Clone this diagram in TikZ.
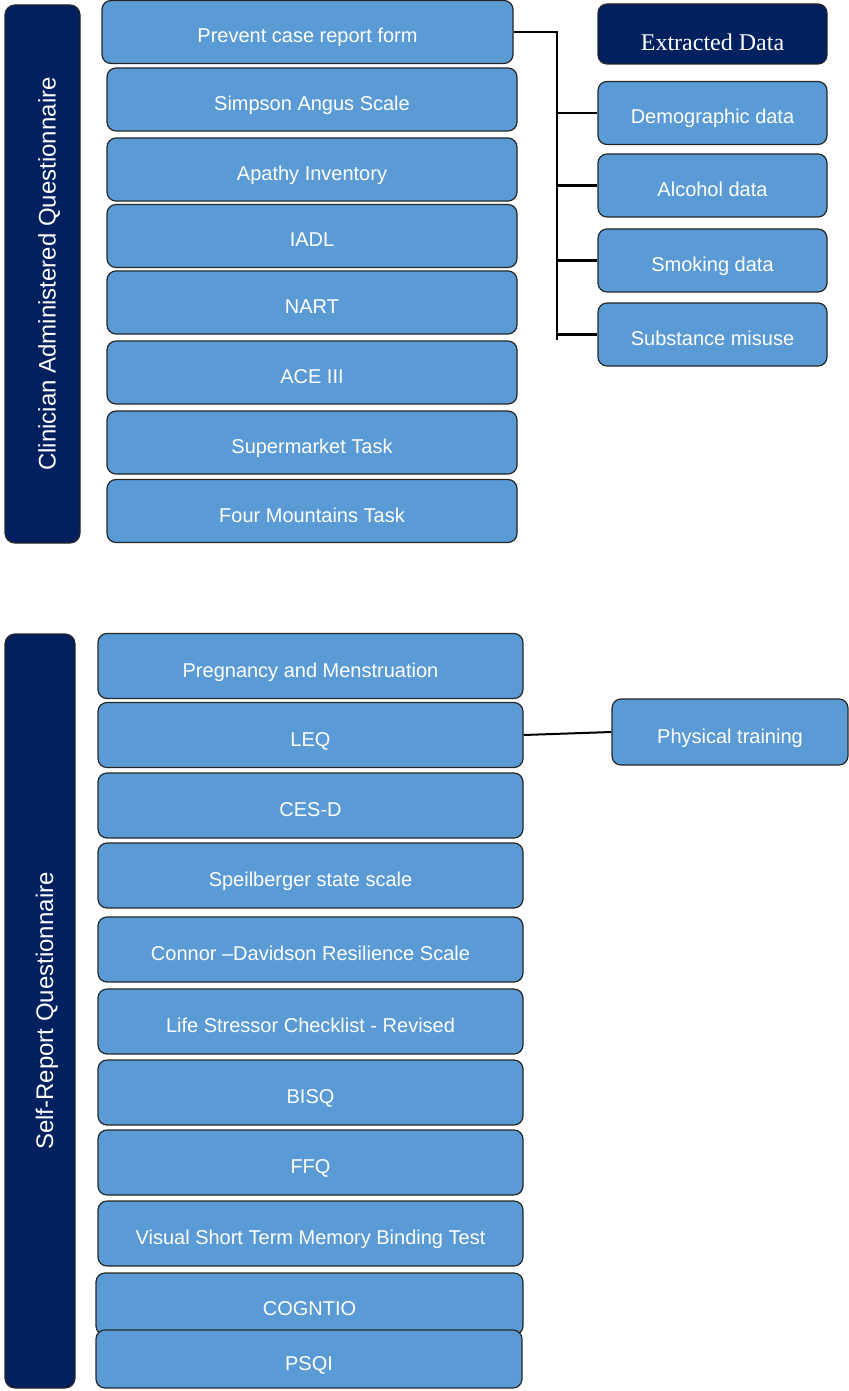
\documentclass[tikz,border=0pt]{standalone}
\usepackage{fontspec}
\setmainfont{Liberation Sans}
\newfontfamily\serifed{Liberation Serif}
\usepackage{tikz}
\usetikzlibrary{calc}

\definecolor{boxblue}{RGB}{91,155,213}
\definecolor{navy}{RGB}{0,32,96}

\tikzset{
  qbox/.style={draw=black!85, fill=boxblue, rounded corners=4.5pt, line width=0.6pt,
    text=white, font=\fontsize{10}{12}\selectfont, inner sep=0pt,
    text height=11pt, text depth=0pt},
  sidebar/.style={draw=black!85, fill=navy, rounded corners=5pt, line width=0.6pt,
    text=white, font=\fontsize{12}{14}\selectfont, inner sep=0pt, rotate=90,
    text height=13pt, text depth=0pt},
  wire/.style={black, line width=1.2pt}
}

\begin{document}
\begin{tikzpicture}[x=0.5pt,y=-0.5pt]
  \useasboundingbox (0,0) rectangle (849,1391);

     % -------------------------
     % TOP: clinician administered
     % -------------------------
      \node[sidebar, minimum width=269pt, minimum height=37.5pt] (cliq) at (42.5,274)
        {Clinician Administered Questionnaire};

      \node[qbox, minimum width=205.5pt, minimum height=31.5pt] (prf) at (307.5,32)
        {Prevent case report form};
      \foreach \nm/\yc/\txt in {sas/99.5/Simpson Angus Scale, api/169.5/Apathy Inventory,
          iadl/236/IADL, nart/302.5/NART, ace/372.5/ACE III,
          smt/442.5/Supermarket Task, fmt/511/Four Mountains Task}
        \node[qbox, minimum width=205pt, minimum height=31.5pt] (\nm) at (312,\yc) {\txt};

      % Extracted data column
      \node[qbox, fill=navy, minimum width=114.5pt, minimum height=30pt,
        font=\serifed\fontsize{12}{14}\selectfont, text height=17pt] (exd) at (712.5,34)
        {Extracted Data};
      \foreach \nm/\yc/\txt in {dem/113/Demographic data, alc/185.5/Alcohol data,
          smk/260.5/Smoking data, sub/334.5/Substance misuse}
        \node[qbox, minimum width=114.5pt, minimum height=31.5pt] (\nm) at (712.5,\yc) {\txt};

      % Bracket connector
      \coordinate (busend) at (557,340);
      \draw[wire] (prf.east) -| (busend);
      \foreach \nm in {dem,alc,smk,sub}
        \draw[wire] (\nm.west) -- (\nm.west -| busend);

     % -------------------------
     % BOTTOM: self-report
     % -------------------------
      \node[sidebar, minimum width=377pt, minimum height=35pt] (srq) at (40,1011)
        {Self-Report Questionnaire};

      \foreach \nm/\yc/\txt in {preg/666/Pregnancy and Menstruation, leq/735/LEQ,
          cesd/805.5/CES-D, spl/875.5/Speilberger state scale,
          cdrs/949.5/Connor –Davidson Resilience Scale,
          lsc/1021.5/Life Stressor Checklist - Revised, bisq/1092.5/BISQ,
          ffq/1162.5/FFQ, vstm/1233.5/Visual Short Term Memory Binding Test}
        \node[qbox, minimum width=212.5pt, minimum height=32.5pt] (\nm) at (310.5,\yc) {\txt};
      \node[qbox, minimum width=213.5pt, minimum height=31pt] (cog) at (309.5,1304) {COGNTIO};
      \node[qbox, minimum width=213pt, minimum height=29pt] (psqi) at (309,1359) {PSQI};

      % Physical training
      \node[qbox, minimum width=118pt, minimum height=33pt] (phy) at (730,732) {Physical training};
      \draw[wire, line width=1pt] (leq.east) -- (phy.west);
\end{tikzpicture}
\end{document}
